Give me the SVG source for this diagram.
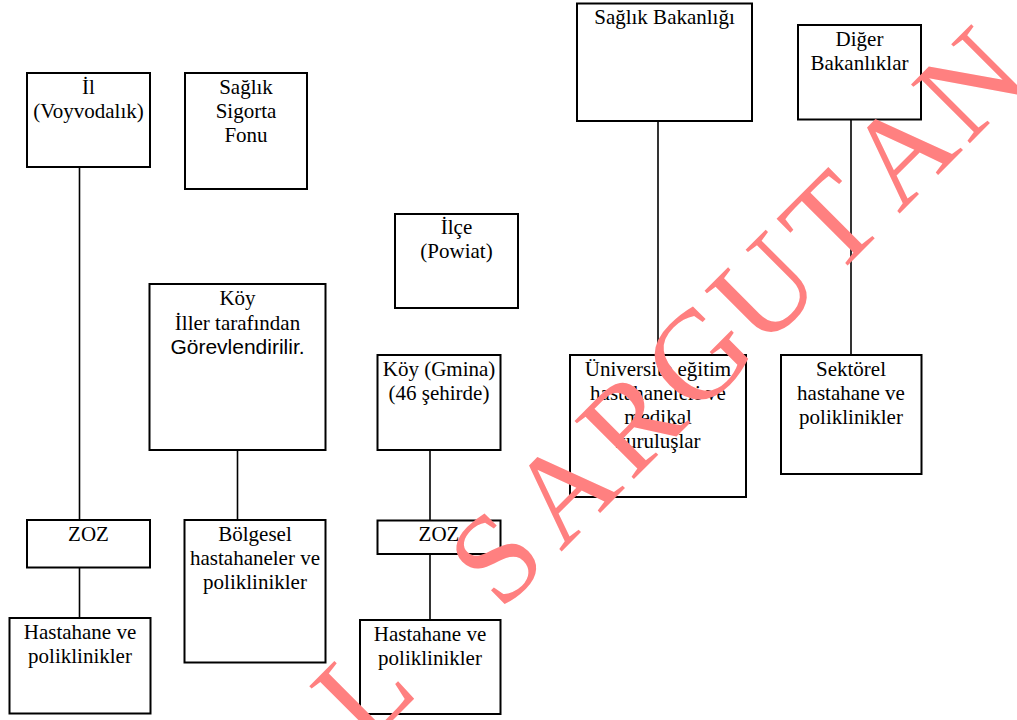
<svg xmlns="http://www.w3.org/2000/svg" width="1017" height="720" viewBox="0 0 1017 720">
<style>
.box{fill:#fff;stroke:#000;stroke-width:2}
.t{font-family:"Liberation Serif","Times New Roman",serif;font-size:21px;fill:#000;text-anchor:middle}
.s{font-family:"Liberation Sans",Arial,sans-serif}
.conn line{stroke:#000;stroke-width:1.6}
.wm{font-family:"Liberation Serif","Times New Roman",serif;font-size:127px;fill:#ff8080}
</style>
<rect width="1017" height="720" fill="#fff"/>
<g id="connectors" class="conn">
<line x1="79.5" y1="167" x2="79.5" y2="520"/>
<line x1="79.5" y1="563" x2="79.5" y2="618"/>
<line x1="237.5" y1="450" x2="237.5" y2="520"/>
<line x1="430" y1="450" x2="430" y2="520.5"/>
<line x1="430" y1="551.5" x2="430" y2="620"/>
<line x1="658" y1="121" x2="658" y2="355"/>
<line x1="851" y1="119.5" x2="851" y2="355"/>
</g>
<g id="il">
<rect class="box" x="27" y="73" width="123" height="94"/>
<text class="t" x="88.5" y="93.5">İl</text>
<text class="t" x="88.5" y="118">(Voyvodalık)</text>
</g>
<g id="sigorta">
<rect class="box" x="185" y="73" width="122" height="116"/>
<text class="t" x="246" y="93.5">Sağlık</text>
<text class="t" x="246" y="117.5">Sigorta</text>
<text class="t" x="246" y="142">Fonu</text>
</g>
<g id="ilce">
<rect class="box" x="395" y="214" width="123" height="94"/>
<text class="t" x="456.5" y="234">İlçe</text>
<text class="t" x="456.5" y="258">(Powiat)</text>
</g>
<g id="koy">
<rect class="box" x="149.5" y="284" width="176" height="166"/>
<text class="t" x="237.5" y="305">Köy</text>
<text class="t" x="237.5" y="330">İller tarafından</text>
<text class="t s" x="237.5" y="354">Görevlendirilir.</text>
</g>
<g id="gmina">
<rect class="box" x="377.5" y="355" width="123" height="95"/>
<text class="t" x="439" y="376">Köy (Gmina)</text>
<text class="t" x="439" y="400">(46 şehirde)</text>
</g>
<g id="universite">
<rect class="box" x="570" y="355" width="176" height="142"/>
<text class="t" x="658" y="375.5">Üniversite eğitim</text>
<text class="t" x="658" y="399.5">hastahaneleri ve</text>
<text class="t" x="658" y="423.5">medikal</text>
<text class="t" x="658" y="448">kuruluşlar</text>
</g>
<g id="sektorel">
<rect class="box" x="781" y="355" width="140.5" height="119"/>
<text class="t" x="851" y="375.5">Sektörel</text>
<text class="t" x="851" y="400">hastahane ve</text>
<text class="t" x="851" y="424">poliklinikler</text>
</g>
<g id="bakanlik">
<rect class="box" x="577" y="3.5" width="175" height="117.5"/>
<text class="t" x="664.5" y="24">Sağlık Bakanlığı</text>
</g>
<g id="diger">
<rect class="box" x="798" y="25" width="123" height="94.5"/>
<text class="t" x="859.5" y="46">Diğer</text>
<text class="t" x="859.5" y="70">Bakanlıklar</text>
</g>
<g id="zoz1">
<rect class="box" x="27" y="520" width="123" height="47.5"/>
<text class="t" x="88.5" y="541">ZOZ</text>
</g>
<g id="bolgesel">
<rect class="box" x="184.5" y="520" width="141" height="142.5"/>
<text class="t" x="255" y="541">Bölgesel</text>
<text class="t" x="255" y="565">hastahaneler ve</text>
<text class="t" x="255" y="589">poliklinikler</text>
</g>
<g id="zoz2">
<rect class="box" x="377.5" y="520.5" width="123" height="33.5"/>
<text class="t" x="439" y="541">ZOZ</text>
</g>
<g id="hastahane1">
<rect class="box" x="9.5" y="618" width="141" height="95.5"/>
<text class="t" x="80" y="638.5">Hastahane ve</text>
<text class="t" x="80" y="663">poliklinikler</text>
</g>
<g id="hastahane2">
<rect class="box" x="360" y="620" width="140.5" height="94"/>
<text class="t" x="430" y="641">Hastahane ve</text>
<text class="t" x="430" y="665">poliklinikler</text>
</g>
<g id="watermark">
<text class="wm" transform="rotate(-45)" x="-270 -190 -79 6 105 196 290 392 484 581" y="787">L SARGUTAN</text>
</g>
</svg>
